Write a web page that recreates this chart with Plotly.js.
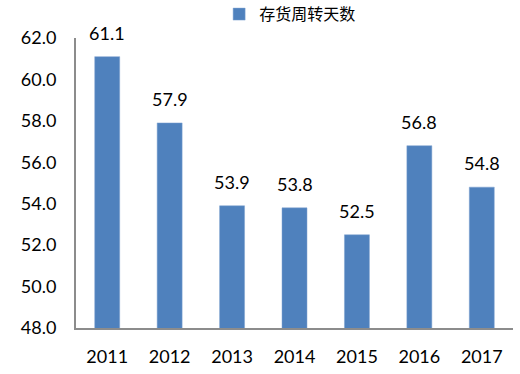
<!DOCTYPE html>
<html><head><meta charset="utf-8">
<script src="https://cdn.plot.ly/plotly-3.0.1.min.js"></script>
<style>body{margin:0;background:#fff}</style>
</head><body>
<div id="chart" style="width:520px;height:374px"></div>
<script>
const years = ["2011","2012","2013","2014","2015","2016","2017"];
const values = [61.1, 57.9, 53.9, 53.8, 52.5, 56.8, 54.8];
const seriesName = "存货周转天数";
const yTicks = [48, 50, 52, 54, 56, 58, 60, 62];

const font = "Lato, 'Open Sans', 'Liberation Sans', sans-serif";
const trace = {
  type: "bar", x: years, y: values, name: seriesName,
  marker: {color: "#4F81BD", line: {color: "#7FA3D0", width: 0.5}},
  width: 0.4, showlegend: true, hoverinfo: "none"
};
const annotations = years.map((yr, i) => ({
  x: i, y: values[i], xref: "x", yref: "y", text: values[i].toFixed(1),
  showarrow: false, yanchor: "bottom", yshift: 11,
  font: {family: font, size: 18, color: "#000"}
}));
const layout = {
  width: 520, height: 374,
  margin: {l: 76, r: 7, t: 38, b: 46, autoexpand: false},
  paper_bgcolor: "#fff", plot_bgcolor: "#fff",
  showlegend: true,
  legend: {x: 0.49, xanchor: "center", yref: "container", y: 0.962, yanchor: "middle", orientation: "h",
    itemwidth: 30,
    font: {family: "'Noto Sans CJK SC', sans-serif", size: 16, color: "#000"}},
  xaxis: {type: "category", range: [-0.5, years.length - 0.5], autorange: false,
    showline: true, linecolor: "#8C8C8C", linewidth: 2,
    ticks: "", showgrid: false, tickfont: {family: font, size: 18, color: "#000"},
    ticklabelstandoff: 11},
  yaxis: {range: [48, 62], autorange: false, tickvals: yTicks, ticktext: yTicks.map(v => v.toFixed(1)),
    showline: true, linecolor: "#8C8C8C", linewidth: 2, ticks: "", showgrid: false,
    zeroline: false, tickfont: {family: font, size: 18, color: "#000"},
    ticklabelstandoff: 14},
  annotations: annotations,
  bargap: 0.6
};
Plotly.newPlot("chart", [trace], layout, {displayModeBar: false, staticPlot: true});
</script>
</body></html>
